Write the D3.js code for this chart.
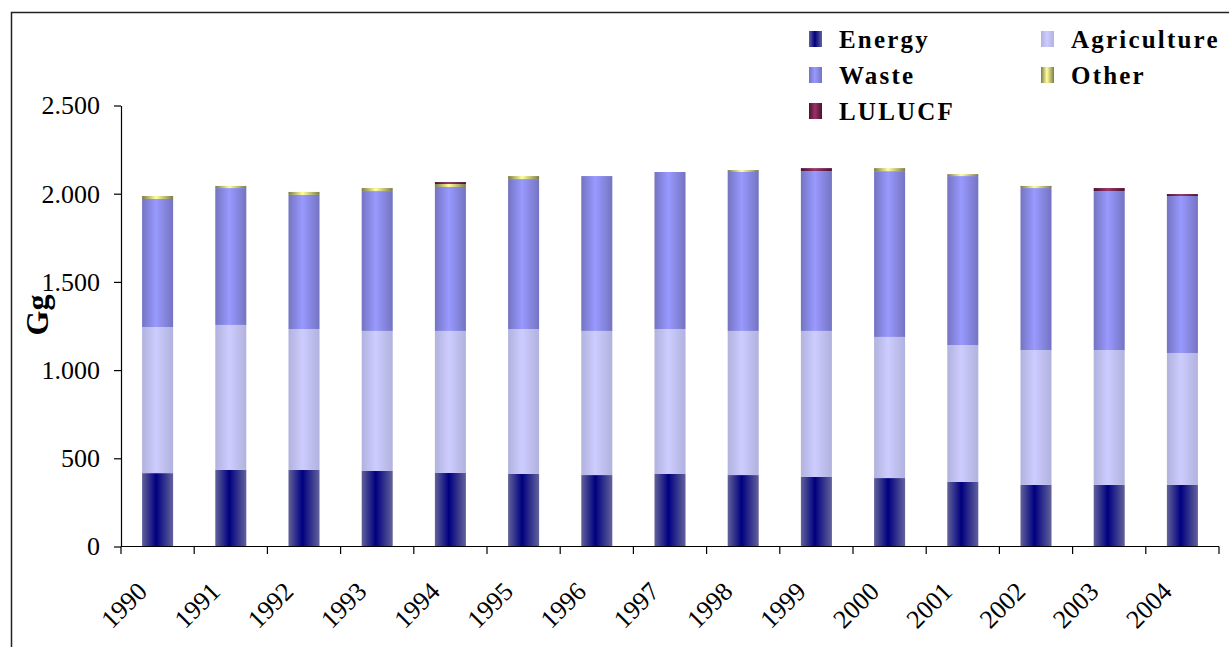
<!DOCTYPE html>
<html>
<head>
<meta charset="utf-8">
<script src="https://cdn.jsdelivr.net/npm/d3@7"></script>
<style>
  html, body { margin: 0; padding: 0; background: #fff; }
  svg { display: block; }
  text { font-family: "Liberation Serif", "Times New Roman", serif; fill: #000; }
</style>
</head>
<body>
<svg id="chart" width="1229" height="647"></svg>
<script>
// ---- data ----
const years = ["1990","1991","1992","1993","1994","1995","1996","1997","1998","1999","2000","2001","2002","2003","2004"];
const energy      = [416, 434, 434, 428, 417, 411, 405, 411, 405, 394, 388, 366, 349, 349, 349];
const agriculture = [828, 822, 799, 794, 805, 822, 817, 822, 817, 828, 800, 776, 765, 765, 748];
const waste       = [726, 776, 760, 793, 816, 850, 878, 890, 901, 906, 940, 958, 918, 901, 890];
const other       = [17, 12, 17, 17, 17, 17, 0, 0, 11, 0, 17, 11, 12, 0, 0];
const lulucf      = [0, 0, 0, 0, 11, 0, 0, 0, 0, 17, 0, 0, 0, 17, 11];
const seriesNames = ["Energy", "Agriculture", "Waste", "Other", "LULUCF"];
const yTicks = [0, 500, 1000, 1500, 2000, 2500];
const yTickLabels = ["0", "500", "1.000", "1.500", "2.000", "2.500"];
const yTitle = "Gg";

// ---- styling ----
const seriesColors = {
  Energy:      { edge: "#62629a", center: "#000080" },
  Agriculture: { edge: "#b2b2de", center: "#ccccff" },
  Waste:       { edge: "#7474c2", center: "#9999ff" },
  Other:       { edge: "#7c7c4c", center: "#ffff99" },
  LULUCF:      { edge: "#4c1232", center: "#993366" }
};

const svg = d3.select("#chart");
const defs = svg.append("defs");
seriesNames.forEach((name, i) => {
  const g = defs.append("linearGradient")
    .attr("id", "grad" + i).attr("x1", "0%").attr("x2", "100%").attr("y1", "0%").attr("y2", "0%");
  g.append("stop").attr("offset", "0%").attr("stop-color", seriesColors[name].edge);
  g.append("stop").attr("offset", "45%").attr("stop-color", seriesColors[name].center);
  g.append("stop").attr("offset", "100%").attr("stop-color", seriesColors[name].edge);
});

// outer frame
svg.append("rect")
  .attr("x", 11.5).attr("y", 12.5).attr("width", 1400).attr("height", 800)
  .attr("fill", "none").attr("stroke", "#222").attr("stroke-width", 1.5);

const x = d3.scaleBand().domain(years).range([121, 1219]).paddingInner(0.576).paddingOuter(0.288);
const y = d3.scaleLinear().domain([0, 2500]).range([546.5, 105.5]);

const table = years.map((yr, i) => ({
  year: yr, Energy: energy[i], Agriculture: agriculture[i], Waste: waste[i], Other: other[i], LULUCF: lulucf[i]
}));
const stacked = d3.stack().keys(seriesNames)(table);

const barsG = svg.append("g");
stacked.forEach((layer, si) => {
  barsG.append("g").attr("fill", "url(#grad" + si + ")")
    .selectAll("rect").data(layer).join("rect")
    .attr("x", d => x(d.data.year))
    .attr("width", x.bandwidth())
    .attr("y", d => y(d[1]))
    .attr("height", d => Math.max(0, y(d[0]) - y(d[1])));
});

// y axis
const yAxis = d3.axisLeft(y).tickValues(yTicks)
  .tickFormat((d, i) => yTickLabels[i]).tickSize(7).tickSizeOuter(0).tickPadding(14);
const yg = svg.append("g").attr("transform", "translate(121,0)").call(yAxis);
yg.select(".domain").attr("stroke", "#000").attr("stroke-width", 1.2);
yg.selectAll(".tick line").attr("stroke", "#000").attr("stroke-width", 1.2);
yg.selectAll(".tick text").attr("font-size", 26).attr("font-family", "Liberation Serif").attr("fill", "#000");

// x axis (ticks at category boundaries)
const xg = svg.append("g");
xg.append("line").attr("x1", 121).attr("x2", 1219).attr("y1", 546.5).attr("y2", 546.5)
  .attr("stroke", "#000").attr("stroke-width", 1.2);
const bScale = d3.scaleLinear().domain([0, years.length]).range([121, 1219]);
d3.range(years.length + 1).forEach(k => {
  xg.append("line").attr("x1", bScale(k)).attr("x2", bScale(k)).attr("y1", 546.5).attr("y2", 554)
    .attr("stroke", "#000").attr("stroke-width", 1.2);
});
xg.selectAll("text.xl").data(years).join("text").attr("class", "xl")
  .attr("transform", d => `translate(${x(d) + x.bandwidth() / 2 - 9},${593}) rotate(-45)`)
  .attr("text-anchor", "end")
  .attr("font-size", 26)
  .text(d => d);

// y title
svg.append("text")
  .attr("transform", "translate(48,315) rotate(-90)")
  .attr("text-anchor", "middle")
  .attr("font-size", 32).attr("font-weight", "bold")
  .text(yTitle);

// legend (2 columns, row-major)
const legend = svg.append("g");
seriesNames.forEach((name, i) => {
  const col = i % 2, row = Math.floor(i / 2);
  const lx = col === 0 ? 809 : 1041;
  const ly = 31 + row * 36;
  legend.append("rect").attr("x", lx).attr("y", ly).attr("width", 13).attr("height", 16)
    .attr("fill", "url(#grad" + i + ")");
  legend.append("text").attr("x", lx + 30).attr("y", ly + 17)
    .attr("font-size", 25).attr("font-weight", "bold").attr("letter-spacing", 2.2)
    .text(name);
});
</script>
</body>
</html>
